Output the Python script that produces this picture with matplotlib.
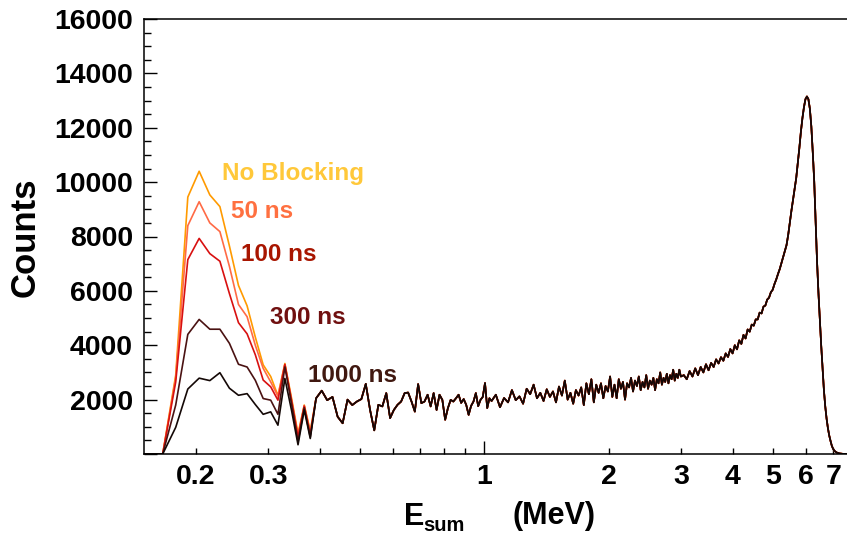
import numpy as np
import matplotlib
matplotlib.use('Agg')
import matplotlib.pyplot as plt

plt.rcParams['font.family'] = ['Liberation Sans', 'DejaVu Sans']
plt.rcParams['font.weight'] = 'bold'

# histogram binning (bin centres, MeV)
bin_w = 0.0125
e_first = 0.1415

# low-energy part, one array per blocking time (0.14 - 0.38 MeV)
no_block = [0, 0, 0, 2900, 9450, 10400, 9530, 9100, 7650, 6200, 5450, 4300,
            3280, 2850, 2150, 3330, 2050, 750, 1800, 850]
ns50 = [0, 0, 0, 2800, 8400, 9280, 8500, 8180, 6900, 5500, 5050, 4000,
        3150, 2650, 2130, 3300, 1980, 680, 1780, 800]
ns100 = [0, 0, 0, 2650, 7150, 7930, 7370, 7090, 5900, 4830, 4420, 3650,
         2720, 2470, 1980, 3290, 1950, 620, 1760, 720]
ns300 = [0, 0, 0, 1800, 4400, 4950, 4590, 4590, 4070, 3300, 3200, 2710,
         2040, 1980, 1460, 3200, 1850, 450, 1700, 620]
ns1000 = [0, 0, 0, 980, 2390, 2790, 2700, 2990, 2420, 2160, 2220, 1820,
          1460, 1550, 1060, 2780, 1600, 340, 1620, 570]

# above ~0.39 MeV all curves coincide
mid_vals = [2050, 2330, 1980, 2100, 1370, 1130, 2000, 1800, 1930, 2020, 2580,
            1620, 870, 1810, 1750, 2240, 1320,
            1620, 1810, 1930, 2240, 2260, 1930, 1560, 2570, 1870, 1930,
            2180, 1750, 2240, 1620, 2180, 1990, 1260, 1690, 1990, 1930,
            2050, 2180, 1880, 2020, 1810, 1440, 1770, 1930, 2240, 1760,
            1990, 2100, 2610, 1690, 2050, 1950]
# 1 - 3 MeV, sampled every 25 keV
hi1_vals = [2180, 1720, 2060, 1900, 2350, 1980, 2120, 1850, 2400, 2200,
            2550, 2050, 2250, 1950, 2380, 2100, 2300, 1900, 2480, 2150,
            2700, 2000, 2250, 1850, 2350, 2150, 2450, 1800, 2600, 2200,
            2750, 1900, 2550, 2250, 2600, 2050, 2500, 2300, 2850, 2100,
            2550, 2050, 2750, 2400, 2650, 2000, 2600, 2450, 2800, 2300,
            2700, 2500, 2850, 2350, 2650, 2450, 2900, 2400, 2700, 2550,
            2800, 2350, 2750, 2600, 3000, 2550, 2800, 2650, 2950, 2600,
            2900, 2750, 3100, 2700, 2950, 2800, 3100, 2850]
# 3 - 7.6 MeV, sampled every 50 keV
hi2_vals = [2900, 2750, 3050, 2850, 3150, 2900, 3200, 3000, 3300, 3080,
            3350, 3200, 3480, 3330, 3560, 3430, 3700, 3570, 3860, 3700,
            4000, 3850, 4180, 4050, 4380, 4250, 4580, 4500, 4760, 4720,
            4950, 4950, 5200, 5170, 5420, 5460, 5680, 5750, 5950, 6040,
            6250, 6420, 6620, 6800, 7020, 7250, 7450, 7680, 8050, 8500,
            8950, 9350, 9750, 10150, 10700, 11250, 11850, 12350, 12750, 13050,
            13150, 13050, 12700, 12050, 11100, 10050, 8550, 7100, 5950, 4950,
            4000, 3150, 2350, 1750, 1300, 950, 680, 480, 300, 190,
            120, 80, 50, 40, 20, 15, 10, 5, 5, 0, 0, 0]

names = ['No Blocking', '50 ns', '100 ns', '300 ns', '1000 ns']
line_cols = ['#ff9a00', '#ff6a45', '#d81010', '#4a1212', '#140806']
text_cols = ['#ffc83a', '#ff7040', '#a81500', '#701010', '#401810']
label_pos = [(0.110, 0.630), (0.124, 0.542), (0.138, 0.444),
             (0.179, 0.298), (0.232, 0.166)]

low_e = e_first + bin_w * np.arange(len(no_block))
mid_e = low_e[-1] + bin_w * np.arange(1, len(mid_vals) + 1)
hi1_e = mid_e[-1] + 0.025 * np.arange(1, len(hi1_vals) + 1)
hi2_e = hi1_e[-1] + 0.05 * np.arange(1, len(hi2_vals) + 1)
energy = np.concatenate([low_e, mid_e, hi1_e, hi2_e])
common = mid_vals + hi1_vals + hi2_vals

fig = plt.figure(figsize=(8.47, 5.34), dpi=100)
ax = fig.add_axes([144 / 847, 80 / 534, 705.5 / 847, 435 / 534])

for low, col in zip([no_block, ns50, ns100, ns300, ns1000], line_cols):
    ax.plot(energy, np.array(low + common), color=col, linewidth=1.2)

for name, col, (tx, ty) in zip(names, text_cols, label_pos):
    ax.text(tx, ty, name, color=col, fontsize=17.5, fontweight='bold',
            transform=ax.transAxes, va='baseline', ha='left')

ax.set_xscale('log')
ax.set_xlim(0.15, 7.66)
ax.set_ylim(0, 16000)

ax.set_xticks([1], ['1'])
ax.set_xticks([0.2, 0.3, 0.4, 0.5, 0.6, 0.7, 0.8, 0.9, 2, 3, 4, 5, 6, 7],
              ['0.2', '0.3', '', '', '', '', '', '', '2', '3', '4', '5', '6', '7'],
              minor=True)
ax.set_yticks(np.arange(0, 16001, 2000),
              [''] + [str(v) for v in range(2000, 16001, 2000)])
ax.set_yticks(np.arange(0, 16001, 500), minor=True)

ax.tick_params(axis='both', which='both', direction='in', width=1.0,
               labelsize=20.5, top=False, right=False)
ax.tick_params(axis='x', which='major', length=9.5, pad=7)
ax.tick_params(axis='x', which='minor', length=4.5, pad=7)
ax.tick_params(axis='y', which='major', length=9.5, pad=8)
ax.tick_params(axis='y', which='minor', length=5)
for lab in ax.get_xticklabels(which='both') + ax.get_yticklabels():
    lab.set_fontweight('bold')

for s in ['left', 'bottom', 'top']:
    ax.spines[s].set_linewidth(1.1)
ax.spines['right'].set_visible(False)

# axis titles
fig.text(25 / 847, 1 - 237 / 534, 'Counts', rotation=90, fontsize=25,
         fontweight='bold', ha='center', va='center')
fig.text(404 / 847, 1 - 525 / 534, 'E', fontsize=22, fontweight='bold',
         ha='left', va='baseline')
fig.text(423 / 847, 1 - 531 / 534, 'sum', fontsize=14.5, fontweight='bold',
         ha='left', va='baseline')
fig.text(513 / 847, 1 - 524 / 534, '(MeV)', fontsize=22, fontweight='bold',
         ha='left', va='baseline')

fig.savefig('out.png', dpi=100)
